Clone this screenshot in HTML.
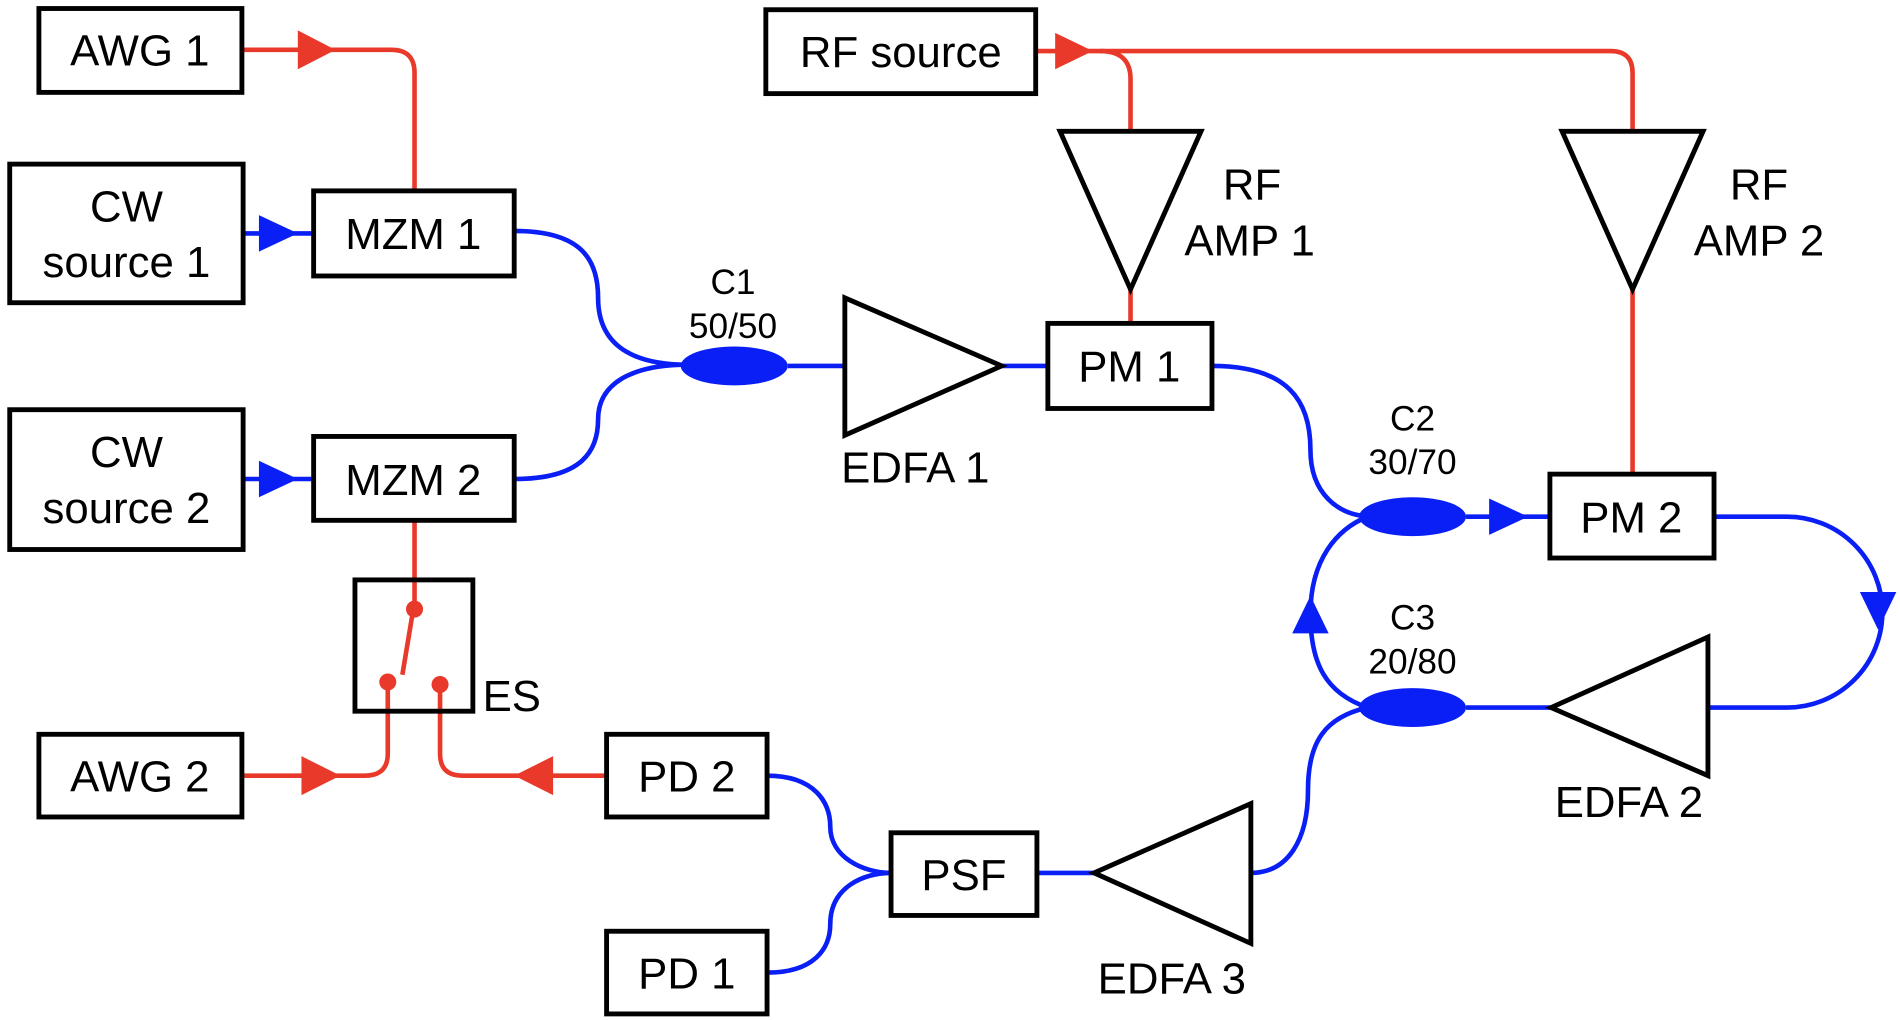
<!DOCTYPE html>
<html><head><meta charset="utf-8"><style>
html,body{margin:0;padding:0;background:#fff;width:1900px;height:1020px;overflow:hidden}
svg{display:block}
text{font-family:"Liberation Sans",Arial,sans-serif;fill:#000;text-anchor:middle}
</style></head><body>
<svg width="1900" height="1020" viewBox="0 0 1563 839" preserveAspectRatio="none" xmlns="http://www.w3.org/2000/svg">
<g fill="none" stroke-width="3.8">
<g stroke="#e8392a">
<path d="M199,41 L322,41 Q341,41 341,60 L341,157"/>
<path d="M852,42 L1325,42 Q1343,42 1343,60 L1343,108"/>
<path d="M905,42 Q930,42 930,65 L930,108"/>
<path d="M930,238 L930,266"/>
<path d="M1343,238 L1343,390"/>
<path d="M341,428 L341,500"/>
<path d="M339,507 L331,555"/>
<path d="M319,560 L319,620 Q319,638 300,638 L199,638"/>
<path d="M362,563 L362,620 Q362,638 380,638 L499,638"/>
</g>
<g stroke="#0a1ff5">
<path d="M200,192 L258,192"/>
<path d="M200,394 L258,394"/>
<path d="M423,190 C480,190 492,215 492,245 C492,290 530,300 565,300"/>
<path d="M423,394 C480,394 492,370 492,345 C492,310 530,300 565,300"/>
<path d="M648,301 L695,301"/>
<path d="M824,301 L862,301"/>
<path d="M997,301 C1060,301 1078,330 1078,370 C1078,405 1100,425 1130,425"/>
<path d="M1206,425 L1275,425"/>
<path d="M1410,425 L1470,425 A78,78 0 0 1 1470,582 L1405,582"/>
<path d="M1276,582 L1206,582"/>
<path d="M1125,582 C1090,570 1078,545 1078,505 C1078,460 1100,435 1125,425"/>
<path d="M1125,582 C1090,590 1076,610 1076,650 C1076,690 1060,718 1029,718"/>
<path d="M900,718 L853,718"/>
<path d="M631,638 C670,638 683,660 683,680 C683,705 710,718 733,718"/>
<path d="M631,800 C670,800 683,780 683,760 C683,730 710,718 733,718"/>
</g>
</g>
<g fill="#e8392a">
<polygon points="245,25 276,41 245,57"/>
<polygon points="868,27 899,42 868,57"/>
<polygon points="248,622 280,638 248,654"/>
<polygon points="455,622 423,638 455,654"/>
<circle cx="341" cy="501" r="7"/>
<circle cx="319" cy="561" r="7"/>
<circle cx="362" cy="563" r="7"/>
</g>
<g fill="#0a1ff5">
<polygon points="213,177 245,192 213,207"/>
<polygon points="213,379 245,394 213,409"/>
<polygon points="1225,410 1257,425 1225,440"/>
<polygon points="1530,487 1560,487 1545,518"/>
<polygon points="1063,521 1093,521 1078,490"/>
<ellipse cx="604" cy="301" rx="44" ry="16"/>
<ellipse cx="1162" cy="425" rx="44" ry="16"/>
<ellipse cx="1162" cy="582" rx="44" ry="16"/>
</g>
<g fill="#fff" stroke="#000" stroke-width="4">
<rect x="32" y="7" width="167" height="69"/>
<rect x="8" y="135" width="192" height="114"/>
<rect x="258" y="157" width="165" height="70"/>
<rect x="8" y="337" width="192" height="115"/>
<rect x="258" y="359" width="165" height="69"/>
<rect x="630" y="8" width="222" height="69"/>
<rect x="862" y="266" width="135" height="70"/>
<rect x="1275" y="390" width="135" height="69"/>
<rect x="733" y="685" width="120" height="68"/>
<rect x="499" y="604" width="132" height="68"/>
<rect x="499" y="766" width="132" height="68"/>
<rect x="32" y="604" width="167" height="68"/>
<rect x="292" y="477" width="97" height="108" fill="none"/>
<polygon points="695,245 695,358 824,301"/>
<polygon points="872,108 988,108 930,238"/>
<polygon points="1285,108 1401,108 1343,238"/>
<polygon points="1405,524 1405,638 1276,582"/>
<polygon points="1029,661 1029,776 900,718"/>
</g>
<g font-size="36">
<text x="115" y="54">AWG 1</text>
<text x="104" y="182">CW</text>
<text x="104" y="228">source 1</text>
<text x="340" y="205">MZM 1</text>
<text x="104" y="384">CW</text>
<text x="104" y="430">source 2</text>
<text x="340" y="407">MZM 2</text>
<text x="741" y="55">RF source</text>
<text x="929" y="314">PM 1</text>
<text x="1342" y="438">PM 2</text>
<text x="793" y="732">PSF</text>
<text x="565" y="651">PD 2</text>
<text x="565" y="813">PD 1</text>
<text x="115" y="651">AWG 2</text>
<text x="1030" y="164">RF</text>
<text x="1028" y="210">AMP 1</text>
<text x="1447" y="164">RF</text>
<text x="1447" y="210">AMP 2</text>
<text x="753" y="397">EDFA 1</text>
<text x="1340" y="672">EDFA 2</text>
<text x="964" y="817">EDFA 3</text>
<text x="421" y="585">ES</text>
</g>
<g font-size="29">
<text x="603" y="242">C1</text>
<text x="603" y="278">50/50</text>
<text x="1162" y="354">C2</text>
<text x="1162" y="390">30/70</text>
<text x="1162" y="518">C3</text>
<text x="1162" y="554">20/80</text>
</g>
</svg>
</body></html>
